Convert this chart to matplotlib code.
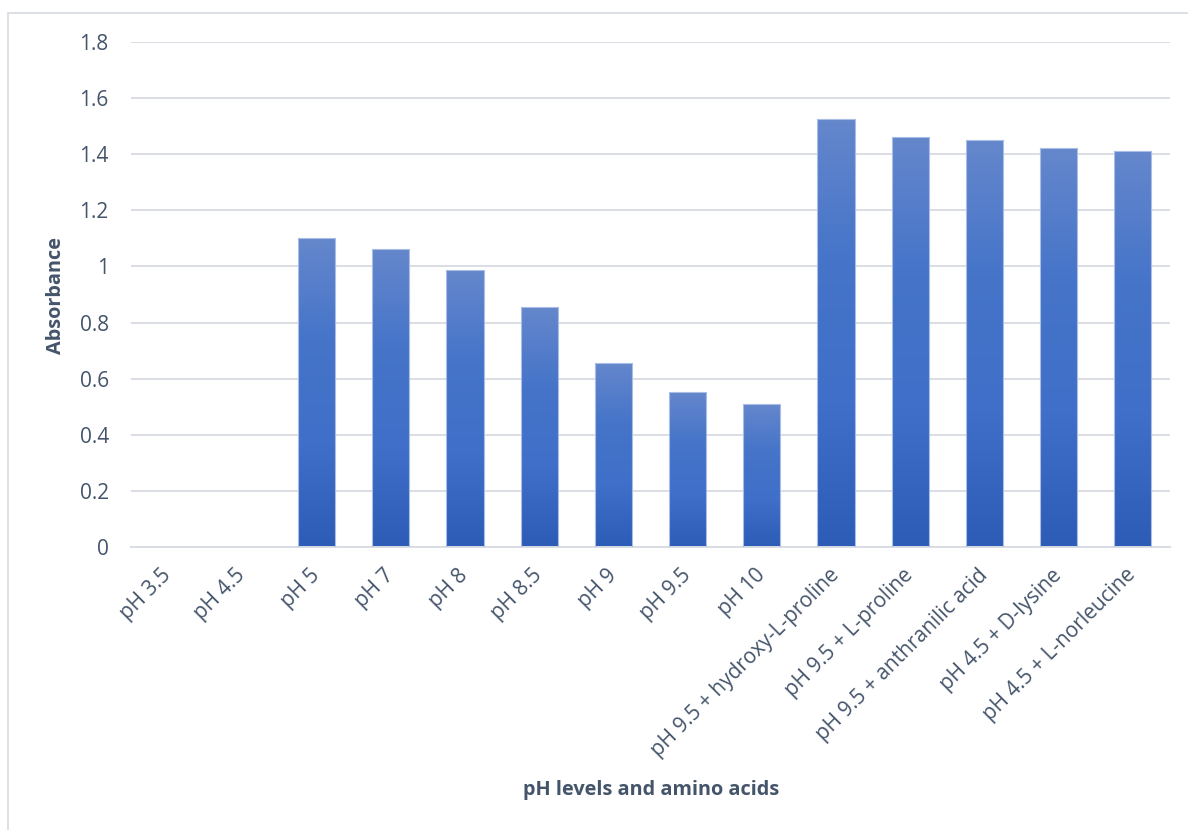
import matplotlib
matplotlib.use("Agg")
import matplotlib.pyplot as plt
import numpy as np
from matplotlib.colors import LinearSegmentedColormap
from matplotlib.patches import Rectangle

categories = ["pH 3.5", "pH 4.5", "pH 5", "pH 7", "pH 8", "pH 8.5", "pH 9",
              "pH 9.5", "pH 10", "pH 9.5 + hydroxy-L-proline", "pH 9.5 + L-proline",
              "pH 9.5 + anthranilic acid", "pH 4.5 + D-lysine", "pH 4.5 + L-norleucine"]
absorbance = [0.0, 0.0, 1.101, 1.061, 0.987, 0.855, 0.657, 0.553, 0.509,
              1.527, 1.463, 1.450, 1.421, 1.411]
yticks = [0, 0.2, 0.4, 0.6, 0.8, 1.0, 1.2, 1.4, 1.6, 1.8]
ytick_labels = ["0", "0.2", "0.4", "0.6", "0.8", "1", "1.2", "1.4", "1.6", "1.8"]

plt.rcParams['font.family'] = ['Open Sans', 'DejaVu Sans']
text_color = "#44546a"
grid_color = "#d9dde3"
fs_tick = 15
fs_title = 14.3

fig = plt.figure(figsize=(11.88, 8.30), dpi=100)
fig.patch.set_facecolor("white")
ax = fig.add_axes([131/1188, 1 - 547/830, (1170-131)/1188, (547-42)/830])

x = np.arange(len(categories))
bars = ax.bar(x, absorbance, width=0.5, color="#4472c4",
              edgecolor="#a9bde6", linewidth=0.8, zorder=2)

cmap = LinearSegmentedColormap.from_list(
    "excel", ["#2c5cb6", "#3f6fc8", "#4574c9", "#6587cc"])
grad = np.linspace(0, 1, 256).reshape(-1, 1)
for b in bars:
    h = b.get_height()
    if h <= 0:
        continue
    bx = b.get_x()
    w = b.get_width()
    im = ax.imshow(grad, cmap=cmap, aspect="auto", origin="lower",
                   extent=[bx, bx + w, 0, h], zorder=2.5, interpolation="bicubic")
    im.set_clip_path(b)
    b.set_facecolor("none")
    b.set_zorder(3)

ax.set_xlim(-0.5, len(categories) - 0.5)
ax.set_ylim(0, 1.8)
ax.set_yticks(yticks)
ax.set_yticklabels(ytick_labels)
ax.set_xticks(x)
ax.set_xticklabels(categories, rotation=45, ha="right", va="center",
                   rotation_mode="anchor")
ax.tick_params(axis="both", length=0, labelsize=fs_tick, colors=text_color)
ax.tick_params(axis="y", pad=16)
ax.tick_params(axis="x", pad=18)
ax.yaxis.grid(True, color=grid_color, linewidth=1.4, zorder=0)
ax.set_axisbelow(True)
for s in ["top", "right", "left"]:
    ax.spines[s].set_visible(False)
ax.spines["bottom"].set_color(grid_color)
ax.spines["bottom"].set_linewidth(1.4)

fig.text(56/1188, 1 - 295/830, "Absorbance", fontsize=fs_title, rotation=90,
         fontweight="bold", color=text_color, ha="center", va="center")
fig.text(651/1188, 1 - 790/830, "pH levels and amino acids", fontsize=fs_title,
         fontweight="bold", color=text_color, ha="center", va="center")

fig.patches.append(Rectangle((7.5/1188, -0.1), 1.2, (830 - 13.5)/830 + 0.1,
                             transform=fig.transFigure, fill=False,
                             edgecolor="#d9dde3", linewidth=1.3))

fig.savefig("out.png", dpi=100, facecolor="white")
